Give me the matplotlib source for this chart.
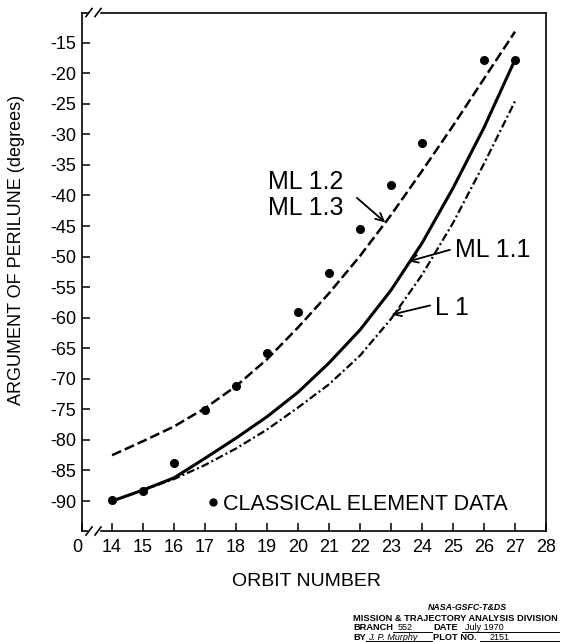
import matplotlib
matplotlib.use('Agg')
import matplotlib.pyplot as plt
from matplotlib.lines import Line2D

plt.rcParams['font.family'] = ['Liberation Sans', 'DejaVu Sans']

# ---------------- data ----------------
orbit = [14, 15, 16, 17, 18, 19, 20, 21, 22, 23, 24, 25, 26, 27]
ml11 = [-90.0, -88.2, -86.2, -83.0, -79.7, -76.2, -72.2, -67.4, -62.0, -55.5, -47.8, -38.8, -28.9, -17.8]
ml12_13 = [-82.5, -80.2, -77.8, -74.8, -71.2, -66.8, -61.6, -56.0, -49.9, -43.2, -36.0, -28.6, -20.9, -13.2]
l1 = [-90.0, -88.2, -86.4, -84.1, -81.4, -78.3, -74.7, -70.9, -66.2, -60.2, -53.0, -44.5, -34.8, -24.6]

data_orbit = [14, 15, 16, 17, 18, 19, 20, 21, 22, 23, 24, 26, 27]
data_arg = [-89.9, -88.4, -83.8, -75.1, -71.2, -65.8, -59.1, -52.7, -45.5, -38.3, -31.4, -17.8, -17.8]

ytick_vals = [-15, -20, -25, -30, -35, -40, -45, -50, -55, -60, -65, -70, -75, -80, -85, -90]
xtick_vals = [13.03, 14, 15, 16, 17, 18, 19, 20, 21, 22, 23, 24, 25, 26, 27, 28]
xtick_labels = ['0', '14', '15', '16', '17', '18', '19', '20', '21', '22', '23', '24', '25', '26', '27', '28']

# ---------------- figure ----------------
W, H = 561, 642
fig = plt.figure(figsize=(W / 100, H / 100), dpi=100)
L, R, T, B = 82, 546, 12.5, 531
ax = fig.add_axes([L / W, 1 - B / H, (R - L) / W, (B - T) / H])
ax.set_xlim(13.03, 28.0)
ax.set_ylim(-94.9, -10.07)

ax.plot(orbit, ml12_13, color='k', lw=1.8, ls=(0, (4, 1.6)))
ax.plot(orbit, ml11, color='k', lw=2.2, ls='-')
ax.plot(orbit, l1, color='k', lw=1.6, ls=(0, (3.6, 1.35, 0.9, 1.35)))
ax.plot(data_orbit, data_arg, 'o', color='k', ms=5.5, zorder=5)

# ticks
ax.set_yticks(ytick_vals)
ax.set_yticklabels([str(v) for v in ytick_vals])
ax.set_xticks(xtick_vals)
ax.set_xticklabels(xtick_labels)
ax.tick_params(axis='both', direction='in', length=6, width=1.1, labelsize=13)
ax.tick_params(axis='y', pad=4)
ax.tick_params(axis='x', pad=6)
ax.get_xticklabels()[0].set_horizontalalignment('right')

# spines: left/right normal, top/bottom broken near left corner
for s in ['left', 'right']:
    ax.spines[s].set_linewidth(1.2)
ax.spines['top'].set_visible(False)
ax.spines['bottom'].set_visible(False)

bw = R - L
bh = B - T
def fx(px):
    return (px - L) / bw
dy = 4.0 / bh
for yb in (0.0, 1.0):
    ax.plot([0, fx(87)], [yb, yb], color='k', lw=1.2, transform=ax.transAxes, clip_on=False)
    ax.plot([fx(101), 1], [yb, yb], color='k', lw=1.2, transform=ax.transAxes, clip_on=False)
    for x0 in (86, 95):
        ax.plot([fx(x0), fx(x0 + 6)], [yb - dy, yb + dy], color='k', lw=1.2,
                transform=ax.transAxes, clip_on=False)

# labels
ax.set_xlabel('ORBIT NUMBER', fontsize=14, va='center')
ax.xaxis.set_label_coords((306.5 - L) / bw, (B - 581) / bh)
ax.set_ylabel('ARGUMENT OF PERILUNE (degrees)', fontsize=13, va='center', ha='center')
ax.yaxis.set_label_coords((17 - L) / bw, (B - 250) / bh)

# curve annotations
ax.text(19.03, -37.8, 'ML 1.2', fontsize=18, ha='left', va='center')
ax.text(19.03, -42.0, 'ML 1.3', fontsize=18, ha='left', va='center')
ax.text(25.06, -49.0, 'ML 1.1', fontsize=18, ha='left', va='center')
ax.text(24.42, -58.4, 'L 1', fontsize=18, ha='left', va='center')
aprops = dict(arrowstyle='->', lw=1.3, color='k', shrinkA=0, shrinkB=0, mutation_scale=14)
ax.annotate('', xy=(22.81, -44.4), xytext=(21.9, -40.4), arrowprops=aprops)
ax.annotate('', xy=(23.56, -50.8), xytext=(24.9, -48.9), arrowprops=aprops)
ax.annotate('', xy=(23.02, -59.5), xytext=(24.26, -58.0), arrowprops=aprops)

# legend
h = Line2D([], [], marker='o', ls='none', color='k', ms=5)
ax.legend([h], ['CLASSICAL ELEMENT DATA'], loc='center left',
          bbox_to_anchor=((206.5 - L) / bw, (B - 504) / bh), frameon=False,
          handlelength=0.6, handletextpad=0.15, borderpad=0, borderaxespad=0,
          fontsize=15.5)

# title block
def ftxt(px, py, s, **kw):
    fig.text(px / W, 1 - py / H, s, va='center', **kw)

ftxt(467, 607, 'NASA-GSFC-T&DS', fontsize=6.3, fontweight='bold', ha='center', style='italic')
ftxt(353, 618.5, 'MISSION & TRAJECTORY ANALYSIS DIVISION', fontsize=6.7, fontweight='bold', ha='left')
ftxt(353, 627.5, 'BRANCH', fontsize=6.7, fontweight='bold', ha='left')
ftxt(398, 627.5, '552', fontsize=6.5, ha='left')
ftxt(433, 627.5, 'DATE', fontsize=6.7, fontweight='bold', ha='left')
ftxt(465, 627.5, 'July 1970', fontsize=6.5, ha='left')
ftxt(353, 637, 'BY', fontsize=6.7, fontweight='bold', ha='left')
ftxt(368, 637, 'J. P. Murphy', fontsize=6.5, ha='left', style='italic')
ftxt(433, 637, 'PLOT NO.', fontsize=6.7, fontweight='bold', ha='left')
ftxt(490, 637, '2151', fontsize=6.5, ha='left')

for (x0, x1, yy) in [(393, 432, 631.5), (462, 559, 631.5), (366, 432, 640.5), (480, 559, 640.5)]:
    fig.add_artist(Line2D([x0 / W, x1 / W], [1 - yy / H, 1 - yy / H], color='k', lw=0.7,
                          transform=fig.transFigure))

fig.savefig('out.png', dpi=100)
